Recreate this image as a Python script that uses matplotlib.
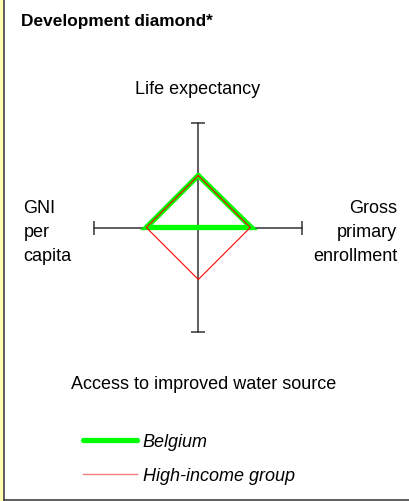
import matplotlib
matplotlib.use('Agg')
import matplotlib.pyplot as plt
from matplotlib.lines import Line2D
from matplotlib.patches import Rectangle
import numpy as np

plt.rcParams['font.family'] = ['Liberation Sans', 'DejaVu Sans']

# axes of the diamond: top, right, bottom, left
indicators = ['Life expectancy', 'Gross\nprimary\nenrollment',
              'Access to improved water source', 'GNI\nper\ncapita']
directions = [(0, 1), (1, 0), (0, -1), (-1, 0)]
axis_max = 2.0

# values relative to the high-income group (=1)
belgium = [1.0, 1.02, 0.0, 1.0]
high_income = [1.0, 1.0, 1.0, 1.0]

W, H = 410, 502
fig = plt.figure(figsize=(W / 100, H / 100), dpi=100)

def px(x, y):
    # pixel (from top-left) -> figure fraction
    return x / W, 1 - y / H

# diamond axes: centre at (198.3, 228.5) px, 52 px per unit
cx, cy, scale, lim = 198.3, 228.5, 52.0, 2.2
ax = fig.add_axes([(cx - lim * scale) / W, 1 - (cy + lim * scale) / H,
                   2 * lim * scale / W, 2 * lim * scale / H])
ax.set_xlim(-lim, lim)
ax.set_ylim(-lim, lim)
ax.axis('off')

axis_col = '#333333'
ax.plot([-axis_max, axis_max], [0, 0], color=axis_col, lw=1.1)
ax.plot([0, 0], [-axis_max, axis_max], color=axis_col, lw=1.1)
ax.plot([-axis_max, axis_max], [0, 0], ls='none', marker='|', ms=9.5,
        mew=1.1, color=axis_col)
ax.plot([0, 0], [-axis_max, axis_max], ls='none', marker='_', ms=9.5,
        mew=1.1, color=axis_col)

def diamond(vals):
    xs = [d[0] * v for d, v in zip(directions, vals)]
    ys = [d[1] * v for d, v in zip(directions, vals)]
    return xs + xs[:1], ys + ys[:1]

bx, by = diamond(belgium)
hx, hy = diamond(high_income)
l1, = ax.plot(bx, by, color='#00ff00', lw=3.8, solid_capstyle='round',
              solid_joinstyle='miter', label='Belgium')
l2, = ax.plot(hx, hy, color='#ff0000', lw=0.8, label='High-income group')

# texts
fs = 13
fig.text(*px(20.7, 25.7), 'Development diamond*', fontsize=12.4,
         fontweight='bold', ha='left', va='baseline')
fig.text(*px(198, 94), indicators[0], fontsize=fs, ha='center', va='baseline')
fig.text(*px(203.8, 389.3), indicators[2], fontsize=fs, ha='center',
         va='baseline')
for i, line in enumerate(indicators[3].split('\n')):
    fig.text(*px(23.3, 213.3 + 24 * i), line, fontsize=fs, ha='left',
             va='baseline')
for i, line in enumerate(indicators[1].split('\n')):
    fig.text(*px(397.3, 213.3 + 24 * i), line, fontsize=fs, ha='right',
             va='baseline')

leg = fig.legend(handles=[l1, l2], loc='upper left',
                 bbox_to_anchor=px(83, 434), frameon=False,
                 borderpad=0, borderaxespad=0, handlelength=3.0,
                 handletextpad=0.3, labelspacing=0.95,
                 prop={'size': fs, 'style': 'italic'})
# legend swatch for the group line is drawn lighter in the original
leg.get_lines()[1].set_color('#f08080')
leg.get_lines()[1].set_linewidth(1.0)

# panel border
fig.add_artist(Rectangle(px(0, H), 3.2 / W, 1, transform=fig.transFigure,
                         color='#ffffb0', lw=0))
fig.add_artist(Line2D([3.9 / W, 3.9 / W], [1, 1 - 500.5 / H],
                      transform=fig.transFigure, color='#333333', lw=1.1))
fig.add_artist(Line2D([3.9 / W, 1], [1 - 500.5 / H, 1 - 500.5 / H],
                      transform=fig.transFigure, color='#333333', lw=1.1))

fig.savefig('out.png', dpi=100)
